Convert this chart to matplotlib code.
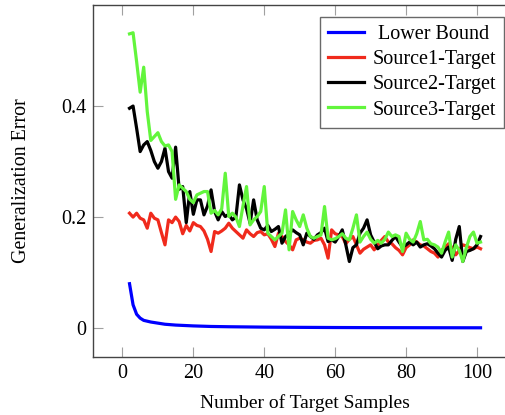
import matplotlib.pyplot as plt

plt.rcParams['font.family'] = ['Liberation Serif', 'DejaVu Serif']

# number of target samples
x = list(range(2, 102))

# lower bound (smooth curve)
lb_x = [2, 3, 4, 5, 6, 8, 10, 12, 15, 20, 25, 30, 40, 50, 60, 70, 80, 90, 101]
lb_y = [0.080, 0.042, 0.025, 0.018, 0.014, 0.011, 0.009, 0.007, 0.0055, 0.004,
        0.003, 0.0025, 0.0018, 0.0014, 0.0011, 0.0009, 0.0008, 0.0007, 0.0006]

source1 = [0.207, 0.200, 0.207, 0.198, 0.195, 0.180, 0.207, 0.198, 0.195, 0.172,
           0.150, 0.195, 0.190, 0.200, 0.192, 0.170, 0.185, 0.175, 0.190, 0.185,
           0.183, 0.175, 0.160, 0.138, 0.174, 0.171, 0.175, 0.180, 0.189, 0.180,
           0.174, 0.168, 0.162, 0.177, 0.170, 0.165, 0.172, 0.174, 0.168, 0.170,
           0.160, 0.147, 0.171, 0.165, 0.156, 0.150, 0.141, 0.159, 0.162, 0.159,
           0.155, 0.153, 0.158, 0.159, 0.162, 0.150, 0.126, 0.177, 0.170, 0.168,
           0.165, 0.152, 0.160, 0.165, 0.150, 0.135, 0.142, 0.146, 0.150, 0.141,
           0.150, 0.158, 0.165, 0.155, 0.152, 0.145, 0.140, 0.132, 0.145, 0.150,
           0.159, 0.155, 0.150, 0.148, 0.143, 0.138, 0.135, 0.128, 0.140, 0.146,
           0.152, 0.145, 0.132, 0.140, 0.150, 0.148, 0.145, 0.143, 0.146, 0.143]

source2 = [0.396, 0.400, 0.360, 0.318, 0.330, 0.336, 0.320, 0.300, 0.288, 0.300,
           0.324, 0.282, 0.270, 0.326, 0.250, 0.255, 0.190, 0.246, 0.205, 0.231,
           0.231, 0.204, 0.220, 0.249, 0.210, 0.195, 0.210, 0.201, 0.205, 0.195,
           0.200, 0.258, 0.231, 0.215, 0.189, 0.231, 0.195, 0.180, 0.177, 0.185,
           0.174, 0.178, 0.183, 0.153, 0.165, 0.170, 0.177, 0.172, 0.168, 0.150,
           0.171, 0.165, 0.160, 0.168, 0.172, 0.180, 0.156, 0.159, 0.155, 0.165,
           0.177, 0.150, 0.120, 0.145, 0.150, 0.171, 0.180, 0.195, 0.168, 0.155,
           0.143, 0.148, 0.150, 0.150, 0.158, 0.165, 0.155, 0.146, 0.150, 0.155,
           0.150, 0.155, 0.146, 0.150, 0.152, 0.148, 0.143, 0.135, 0.128, 0.140,
           0.146, 0.122, 0.160, 0.183, 0.120, 0.138, 0.140, 0.143, 0.150, 0.165]

source3 = [0.530, 0.532, 0.480, 0.425, 0.470, 0.390, 0.338, 0.345, 0.352, 0.336,
           0.328, 0.330, 0.318, 0.232, 0.258, 0.252, 0.246, 0.232, 0.226, 0.240,
           0.243, 0.246, 0.246, 0.207, 0.212, 0.204, 0.215, 0.279, 0.201, 0.207,
           0.200, 0.183, 0.220, 0.255, 0.186, 0.195, 0.201, 0.210, 0.255, 0.171,
           0.165, 0.159, 0.165, 0.171, 0.213, 0.141, 0.210, 0.195, 0.183, 0.204,
           0.180, 0.165, 0.162, 0.165, 0.168, 0.219, 0.162, 0.159, 0.161, 0.165,
           0.170, 0.162, 0.159, 0.180, 0.204, 0.155, 0.165, 0.173, 0.160, 0.153,
           0.158, 0.153, 0.160, 0.173, 0.165, 0.168, 0.165, 0.138, 0.171, 0.160,
           0.155, 0.170, 0.192, 0.159, 0.160, 0.152, 0.150, 0.146, 0.135, 0.155,
           0.173, 0.128, 0.150, 0.140, 0.120, 0.145, 0.165, 0.173, 0.153, 0.155]

fig = plt.figure(figsize=(5.06, 4.15), dpi=100)
ax = fig.add_axes([93 / 506, 58 / 415, 423 / 506, 352 / 415])

lw = 2.3
ax.plot(lb_x, lb_y, color='#0000ff', lw=lw, label=' Lower Bound')
ax.plot(x, source1, color='#f02a1c', lw=lw, label='Source1-Target')
ax.plot(x, source2, color='black', lw=lw, label='Source2-Target')
ax.plot(x, source3, color='#62f53c', lw=lw, label='Source3-Target')

ax.set_xlim(-8.3, 111)
ax.set_ylim(-0.052, 0.582)
ax.set_xticks([0, 20, 40, 60, 80, 100])
ax.set_yticks([0, 0.2, 0.4])
ax.set_yticklabels(['0', '0.2', '0.4'])

ax.tick_params(direction='in', length=7, width=0.8, color='#a0a0a0',
               labelsize=14.5, top=True, right=True, pad=5)
for s in ax.spines.values():
    s.set_color('#444444')
    s.set_linewidth(1.0)

ax.set_xlabel('Number of Target Samples', fontsize=14, labelpad=8)
ax.set_ylabel('Generalization Error', fontsize=14.4)
ax.yaxis.set_label_coords(-0.146, 0.5)

leg = ax.legend(loc='upper left', bbox_to_anchor=(0.537, 0.966), fontsize=14.5,
                frameon=True, fancybox=False, edgecolor='#444444',
                handlelength=1.8, handletextpad=0.4, borderpad=0.4,
                labelspacing=0.3, borderaxespad=0)
leg.get_frame().set_linewidth(1.0)

fig.savefig('out.png', dpi=100)
